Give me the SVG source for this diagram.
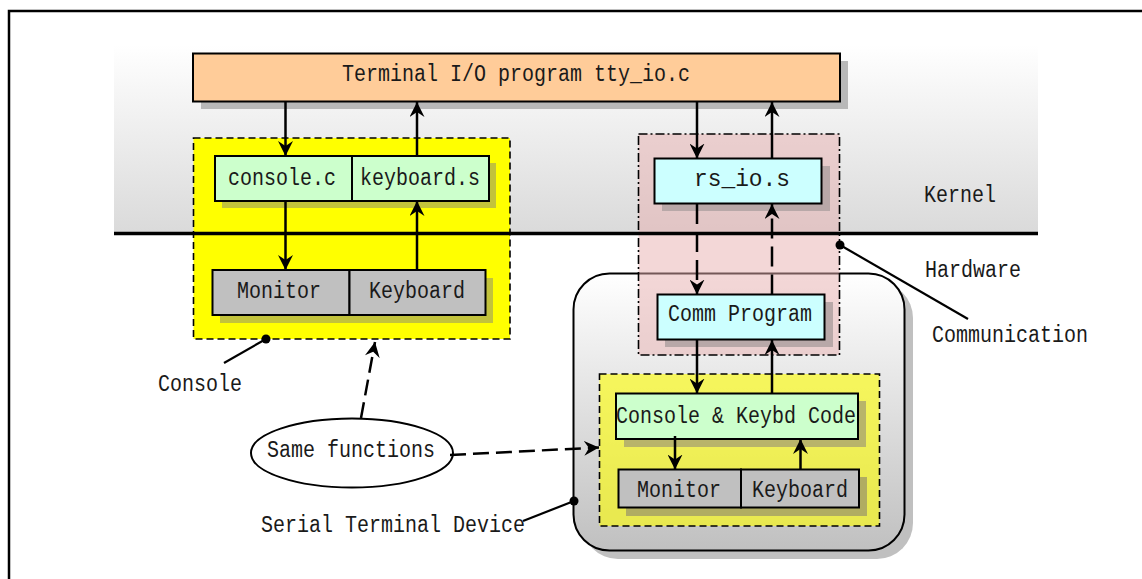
<svg xmlns="http://www.w3.org/2000/svg" width="1142" height="579" viewBox="0 0 1142 579">
<defs>
  <linearGradient id="bandGrad" x1="0" y1="0" x2="0" y2="1">
    <stop offset="0" stop-color="#ffffff"/>
    <stop offset="1" stop-color="#dadada"/>
  </linearGradient>
  <linearGradient id="devGrad" x1="0" y1="0" x2="0" y2="1">
    <stop offset="0" stop-color="#ffffff"/>
    <stop offset="1" stop-color="#c0c0c0"/>
  </linearGradient>
  <marker id="arr" markerUnits="userSpaceOnUse" markerWidth="16" markerHeight="15" refX="15" refY="7.5" orient="auto">
    <path d="M0,0 L15,7.5 L0,15 L5,7.5 z" fill="#000"/>
  </marker>
</defs>
<style>
  text { font-family: "Liberation Mono", "DejaVu Sans Mono", monospace; font-size: 23px; fill: #1a1a1a; }
  .box { stroke: #000; stroke-width: 2; }
  .conn { stroke: #000; stroke-width: 2.5; fill: none; }
  .dash { stroke-dasharray: 20 8; }
  .call { stroke: #000; stroke-width: 2.2; fill: none; }
</style>
<rect x="0" y="0" width="1142" height="579" fill="#ffffff"/>
<rect id="frame" x="9" y="11" width="1200" height="650" fill="none" stroke="#000" stroke-width="2.5"/>

<g id="kernel-band">
  <rect x="114" y="45" width="924" height="188" fill="url(#bandGrad)"/>
</g>

<g id="serial-terminal-device">
  <rect x="582" y="282" width="331" height="277" rx="36" ry="36" fill="#c0c0c0"/>
  <rect x="573.5" y="273.5" width="331" height="277" rx="36" ry="36" fill="url(#devGrad)" stroke="#000" stroke-width="2"/>
</g>

<g id="console-group">
  <rect x="193.5" y="138" width="316.5" height="201" fill="#ffff00" stroke="#000" stroke-width="1.6" stroke-dasharray="7 4"/>
</g>

<g id="comm-group">
  <rect x="638.5" y="134" width="201" height="221" fill="#e8b0b0" fill-opacity="0.5" stroke="#000" stroke-width="1.6" stroke-dasharray="9 3 2 3"/>
</g>

<g id="serial-console-group">
  <rect x="599.5" y="374" width="280" height="152" fill="#ffff00" fill-opacity="0.6" stroke="#000" stroke-width="1.6" stroke-dasharray="7 4"/>
</g>

<g id="terminal-io">
  <rect x="201" y="61" width="647" height="48" fill="#b8b8b8"/>
  <rect class="box" x="193" y="53.5" width="647" height="48" fill="#ffcc99"/>
  <text x="342" y="81" textLength="348" lengthAdjust="spacingAndGlyphs">Terminal I/O program tty_io.c</text>
</g>

<g id="console-c">
  <rect x="222" y="163" width="274" height="45" fill="#c2c23c"/>
  <rect class="box" x="215" y="156" width="137" height="45" fill="#ccffcc"/>
  <text x="228" y="185" textLength="108" lengthAdjust="spacingAndGlyphs">console.c</text>
</g>
<g id="keyboard-s">
  <rect class="box" x="352" y="156" width="137" height="45" fill="#ccffcc"/>
  <text x="360" y="185" textLength="120" lengthAdjust="spacingAndGlyphs">keyboard.s</text>
</g>

<g id="monitor-1">
  <rect x="220" y="278" width="273" height="45" fill="#c2c23c"/>
  <rect class="box" x="212.5" y="270" width="137" height="45" fill="#c0c0c0"/>
  <text x="237" y="298" textLength="84" lengthAdjust="spacingAndGlyphs">Monitor</text>
</g>
<g id="keyboard-1">
  <rect class="box" x="349.5" y="270" width="136" height="45" fill="#c0c0c0"/>
  <text x="369" y="298" textLength="96" lengthAdjust="spacingAndGlyphs">Keyboard</text>
</g>

<g id="rs-io">
  <rect x="662" y="166" width="168" height="45" fill="#b8a8a8"/>
  <rect class="box" x="654.5" y="158.5" width="167" height="45" fill="#ccffff"/>
  <text x="694" y="186" textLength="96" lengthAdjust="spacingAndGlyphs">rs_io.s</text>
</g>

<g id="comm-program">
  <rect x="665" y="302" width="168" height="45" fill="#b8a8a8"/>
  <rect class="box" x="657.5" y="294.5" width="167" height="45" fill="#ccffff"/>
  <text x="668" y="321" textLength="144" lengthAdjust="spacingAndGlyphs">Comm Program</text>
</g>

<g id="console-keybd-code">
  <rect x="624" y="401" width="242" height="46" fill="#b8b46a"/>
  <rect class="box" x="616" y="393.5" width="242" height="45.5" fill="#ccffcc"/>
  <text x="616" y="423" textLength="240" lengthAdjust="spacingAndGlyphs">Console &amp; Keybd Code</text>
</g>

<g id="monitor-2">
  <rect x="626" y="477" width="241" height="39" fill="#b0ac62"/>
  <rect class="box" x="618.5" y="469.5" width="122.5" height="38" fill="#c0c0c0"/>
  <text x="637" y="497" textLength="84" lengthAdjust="spacingAndGlyphs">Monitor</text>
</g>
<g id="keyboard-2">
  <rect class="box" x="741" y="469.5" width="118" height="38" fill="#c0c0c0"/>
  <text x="752" y="497" textLength="96" lengthAdjust="spacingAndGlyphs">Keyboard</text>
</g>

<g id="same-functions">
  <ellipse cx="352" cy="453" rx="101" ry="34.5" fill="#ffffff" stroke="#000" stroke-width="2"/>
  <text x="267" y="457" textLength="168" lengthAdjust="spacingAndGlyphs">Same functions</text>
</g>

<g id="labels">
  <text x="924" y="202" textLength="72" lengthAdjust="spacingAndGlyphs">Kernel</text>
  <text x="925" y="277" textLength="96" lengthAdjust="spacingAndGlyphs">Hardware</text>
  <text x="932" y="342" textLength="156" lengthAdjust="spacingAndGlyphs">Communication</text>
  <text x="158" y="391" textLength="84" lengthAdjust="spacingAndGlyphs">Console</text>
  <text x="261" y="532" textLength="264" lengthAdjust="spacingAndGlyphs">Serial Terminal Device</text>
</g>

<g id="connectors">
  <line x1="114" y1="233.5" x2="1038" y2="233.5" stroke="#000" stroke-width="3.5"/>
  <line class="conn" x1="285.5" y1="102" x2="285.5" y2="156" marker-end="url(#arr)"/>
  <line class="conn" x1="417" y1="156" x2="417" y2="102" marker-end="url(#arr)"/>
  <line class="conn" x1="285.5" y1="201" x2="285.5" y2="270" marker-end="url(#arr)"/>
  <line class="conn" x1="417" y1="270" x2="417" y2="201" marker-end="url(#arr)"/>
  <line class="conn" x1="697" y1="102" x2="697" y2="158.5" marker-end="url(#arr)"/>
  <line class="conn" x1="772" y1="158.5" x2="772" y2="102" marker-end="url(#arr)"/>
  <line class="conn dash" x1="697" y1="204" x2="697" y2="294.5" marker-end="url(#arr)"/>
  <line class="conn dash" x1="772" y1="294.5" x2="772" y2="204" marker-end="url(#arr)"/>
  <line class="conn" x1="697" y1="340" x2="697" y2="393.5" marker-end="url(#arr)"/>
  <line class="conn" x1="772" y1="393.5" x2="772" y2="340" marker-end="url(#arr)"/>
  <line class="conn" x1="675" y1="436" x2="675" y2="469.5" marker-end="url(#arr)"/>
  <line class="conn" x1="800.5" y1="469.5" x2="800.5" y2="439" marker-end="url(#arr)"/>
  <line class="conn" x1="361" y1="418" x2="375" y2="342" stroke-dasharray="16 7" marker-end="url(#arr)"/>
  <line class="conn" x1="450" y1="455" x2="599" y2="447.5" stroke-dasharray="16 7" marker-end="url(#arr)"/>
  <line class="call" x1="224" y1="363" x2="266" y2="339"/>
  <circle cx="266" cy="339" r="4.5" fill="#000"/>
  <line class="call" x1="523" y1="521" x2="574" y2="501"/>
  <circle cx="574" cy="501" r="4.5" fill="#000"/>
  <line class="call" x1="968" y1="319" x2="840" y2="245"/>
  <circle cx="840" cy="245" r="4.5" fill="#000"/>
</g>
</svg>
